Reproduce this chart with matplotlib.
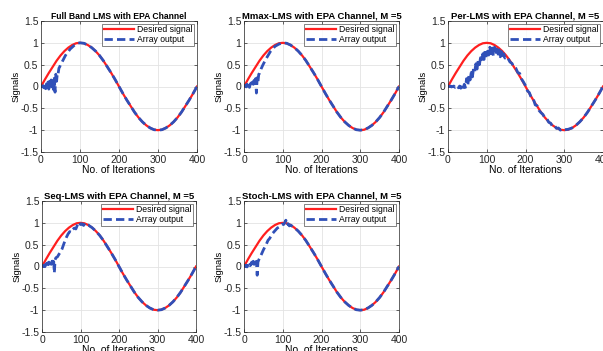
import matplotlib
matplotlib.use('Agg')
import matplotlib.pyplot as plt

plt.rcParams['font.family'] = ['Liberation Sans', 'DejaVu Sans']

# desired signal read every 10 iterations
n_des = list(range(0, 401, 10))
y_des = [0, 0.16, 0.31, 0.45, 0.59, 0.71, 0.81, 0.89, 0.95, 0.99,
         1.0, 0.99, 0.95, 0.89, 0.81, 0.71, 0.59, 0.45, 0.31, 0.16,
         0, -0.16, -0.31, -0.45, -0.59, -0.71, -0.81, -0.89, -0.95, -0.99,
         -1.0, -0.99, -0.95, -0.89, -0.81, -0.71, -0.59, -0.45, -0.31, -0.16, 0]

# converged part, read every 10 iterations from 110 to 400
n_tail = list(range(110, 401, 10))
y_tail = y_des[11:]

titles = ['Full Band LMS with EPA Channel',
          'Mmax-LMS with EPA Channel, M =5',
          'Per-LMS with EPA Channel, M =5',
          'Seq-LMS with EPA Channel, M =5',
          'Stoch-LMS with EPA Channel, M =5']
title_sizes = [6.2, 6.8, 6.8, 6.8, 6.8]

n_fb = [0, 2, 4, 6, 8, 10, 12, 14, 16, 18, 20, 22, 24, 26, 28, 30, 32, 34, 36,
        38, 40, 42, 44, 46, 48, 50, 54, 58, 62, 66, 70, 75, 80, 85, 90, 95,
        100] + n_tail
y_fb = [0, 0.01, -0.01, 0.02, -0.03, 0.04, -0.05, 0.06, 0.0, 0.1, -0.06, 0.12,
        0.02, 0.15, -0.08, 0.18, -0.12, 0.22, -0.13, 0.28, 0.12, 0.32, 0.3,
        0.42, 0.45, 0.5, 0.56, 0.63, 0.7, 0.76, 0.8, 0.86, 0.9, 0.94, 0.97,
        0.99, 1.0] + y_tail

n_mm = [0, 2, 4, 6, 8, 10, 12, 14, 16, 18, 20, 22, 24, 26, 28, 30, 32, 34, 36,
        38, 40, 44, 48, 52, 56, 60, 64, 68, 72, 76, 80, 90, 100] + n_tail
y_mm = [0, 0.01, 0.03, -0.01, 0.05, 0.0, 0.06, -0.02, 0.04, 0.08, 0.02, 0.1,
        0.05, 0.14, 0.08, 0.18, -0.15, 0.2, 0.1, 0.28, 0.3, 0.4, 0.48, 0.55,
        0.62, 0.68, 0.74, 0.8, 0.84, 0.88, 0.92, 0.97, 1.0] + y_tail

n_per = [0, 3, 6, 9, 12, 15, 18, 21, 24, 27, 30, 33, 36, 39, 42, 45, 48, 51,
         54, 57, 60, 63, 66, 69, 72, 75, 78, 81, 84, 87, 90, 93, 96, 99, 102,
         105, 108, 111, 114, 117, 120, 123, 126, 129, 132, 135, 138, 141, 144,
         147, 150, 155, 160, 165, 170, 175, 180, 185, 190, 195, 200, 205, 210,
         215, 220, 225, 230, 235, 240, 245, 250, 255, 260, 265, 270, 275, 280,
         285, 290, 295, 300, 310, 320, 330, 340, 350, 360, 370, 380, 390, 400]
y_per = [0, 0.0, 0.01, -0.01, 0.0, 0.01, -0.02, 0.0, 0.02, -0.03, 0.01, -0.04,
         0.03, -0.05, 0.05, -0.02, 0.18, 0.02, 0.25, 0.15, 0.32, 0.22, 0.42,
         0.35, 0.52, 0.4, 0.6, 0.5, 0.66, 0.58, 0.75, 0.62, 0.85, 0.7, 0.86,
         0.72, 0.9, 0.75, 0.88, 0.7, 0.9, 0.74, 0.86, 0.7, 0.84, 0.68, 0.8,
         0.66, 0.75, 0.65, 0.68, 0.64, 0.56, 0.53, 0.44, 0.42, 0.32, 0.3, 0.17,
         0.1, 0.02, -0.1, -0.14, -0.26, -0.28, -0.42, -0.44, -0.55, -0.6,
         -0.64, -0.72, -0.74, -0.82, -0.84, -0.92, -0.9, -0.96, -0.95, -1.0,
         -0.97, -0.99, -0.98, -0.95, -0.89, -0.81, -0.71, -0.59, -0.45, -0.31,
         -0.16, 0]

n_seq = [0, 2, 4, 6, 8, 10, 12, 14, 16, 18, 20, 22, 24, 26, 28, 30, 32, 34, 36,
         40, 44, 48, 52, 56, 60, 64, 68, 72, 76, 80, 84, 88, 92, 96, 100, 104,
         108, 112, 116, 120] + n_tail[2:]
y_seq = [0, 0.02, 0.0, 0.03, 0.0, 0.06, 0.02, 0.08, 0.04, 0.1, 0.06, 0.14,
         0.05, 0.12, 0.1, 0.18, -0.15, 0.15, 0.2, 0.22, 0.28, 0.33, 0.4, 0.5,
         0.6, 0.68, 0.75, 0.8, 0.78, 0.85, 0.88, 0.86, 0.95, 1.02, 0.96, 0.98,
         0.94, 0.99, 0.95, 0.95] + y_tail[2:]

n_st = [0, 2, 4, 6, 8, 10, 12, 14, 16, 18, 20, 22, 24, 26, 28, 30, 32, 34, 36,
        38, 42, 46, 50, 54, 58, 62, 66, 70, 74, 78, 82, 86, 90, 94, 98, 102,
        105, 108, 111, 114, 117, 120] + n_tail[2:]
y_st = [0, 0.02, 0.0, 0.03, -0.01, 0.05, 0.0, 0.04, 0.02, 0.06, 0.1, 0.0,
        0.12, 0.05, 0.15, 0.08, 0.12, -0.2, 0.1, 0.15, 0.22, 0.3, 0.38, 0.45,
        0.52, 0.6, 0.64, 0.7, 0.76, 0.8, 0.84, 0.88, 0.9, 0.94, 0.97, 0.96,
        1.0, 1.06, 0.94, 0.98, 0.93, 0.95] + y_tail[2:]

outputs = [(n_fb, y_fb), (n_mm, y_mm), (n_per, y_per), (n_seq, y_seq), (n_st, y_st)]

xticks = [0, 100, 200, 300, 400]
yticks = [-1.5, -1, -0.5, 0, 0.5, 1, 1.5]
ylabels = ['-1.5', '-1', '-0.5', '0', '0.5', '1', '1.5']

W, H = 603, 351
# axes boxes in pixels: left, top, right, bottom
boxes = [(41, 21, 197, 152), (244, 21, 399, 152), (448, 21, 603, 152),
         (42, 201, 196, 332), (244, 201, 399, 332)]

fig = plt.figure(figsize=(W / 100, H / 100), dpi=100)
for i in range(5):
    l, t, r, b = boxes[i]
    ax = fig.add_axes([l / W, (H - b) / H, (r - l) / W, (b - t) / H])
    ax.plot(n_des, y_des, color='#ff1f1f', lw=1.6, label='Desired signal')
    ax.plot(outputs[i][0], outputs[i][1], '--', color='#3050b8', lw=2.0,
            dashes=(3, 1.5), label='Array output')
    ax.set_xlim(0, 400)
    ax.set_ylim(-1.5, 1.5)
    ax.set_xticks(xticks)
    ax.set_yticks(yticks)
    ax.set_yticklabels(ylabels)
    ax.tick_params(labelsize=7.5, direction='in', length=2, width=0.5,
                   top=True, right=True, pad=2, colors='#262626')
    ax.grid(True, color='#e3e3e3', lw=0.6)
    ax.set_axisbelow(True)
    for s in ax.spines.values():
        s.set_color('#262626')
        s.set_linewidth(0.5)
    ax.set_title(titles[i], fontsize=title_sizes[i], fontweight='bold', pad=1.5)
    ax.set_xlabel('No. of Iterations', fontsize=7.5, labelpad=0)
    ax.set_ylabel('Signals', fontsize=6.8, labelpad=0)
    leg = ax.legend(loc='upper right', fontsize=6.2, handlelength=3.5,
                    borderpad=0.2, labelspacing=0.1, handletextpad=0.4,
                    fancybox=False, borderaxespad=0.3)
    leg.get_frame().set_edgecolor('#262626')
    leg.get_frame().set_linewidth(0.5)

fig.savefig('out.png', dpi=100)
